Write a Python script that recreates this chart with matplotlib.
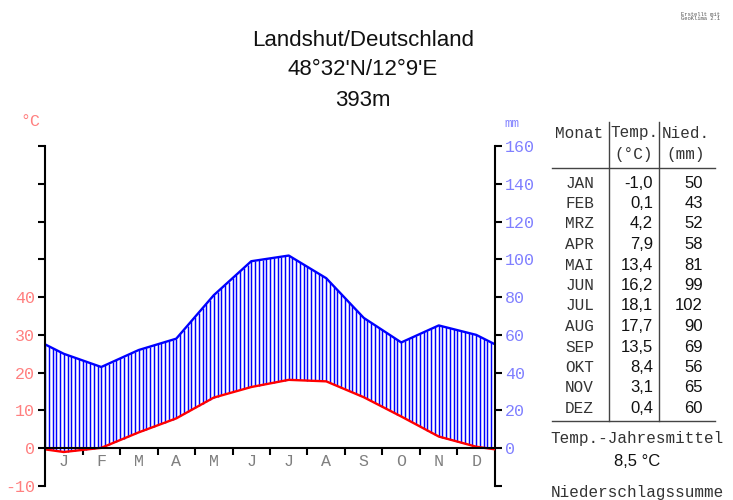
import numpy as np
import matplotlib.pyplot as plt

# Klimadaten Landshut
months = ["JAN", "FEB", "MRZ", "APR", "MAI", "JUN",
          "JUL", "AUG", "SEP", "OKT", "NOV", "DEZ"]
month_letters = ["J", "F", "M", "A", "M", "J", "J", "A", "S", "O", "N", "D"]
temp = [-1.0, 0.1, 4.2, 7.9, 13.4, 16.2, 18.1, 17.7, 13.5, 8.4, 3.1, 0.4]
precip = [50, 43, 52, 58, 81, 99, 102, 90, 69, 56, 65, 60]

title_lines = ["Landshut/Deutschland", "48°32'N/12°9'E", "393m"]

MONO = "Liberation Mono"
SANS = "Liberation Sans"
RED = "#ff0000"
BLUE = "#0000ff"
PINK = "#ff8080"
LIGHTBLUE = "#8080ff"
GREY = "#7f7f7f"
TXT = "#333333"

fig = plt.figure(figsize=(7.33, 5.0), dpi=100)
ax = fig.add_axes([0.0614, 0.028, 0.6139, 0.680])
ax2 = ax.twinx()
ax.set_zorder(ax2.get_zorder() + 1)
ax.patch.set_visible(False)

# Kurven an den Monatsmitten, Ränder zyklisch gemittelt
x_mid = np.arange(12) + 0.5
t_edge = (temp[-1] + temp[0]) / 2
p_edge = (precip[-1] + precip[0]) / 2
xs = np.concatenate([[0], x_mid, [12]])
ts = np.concatenate([[t_edge], temp, [t_edge]])
ps = np.concatenate([[p_edge], precip, [p_edge]])

# humide Zeit: senkrechte Schraffur zwischen Temperatur- und Niederschlagskurve
xh = np.arange(0, 12.001, 0.1)
th = np.interp(xh, xs, ts) * 2
ph = np.interp(xh, xs, ps)
wet = ph > th
ax2.vlines(xh[wet], th[wet], ph[wet], color=BLUE, lw=1.05)
ax2.plot(xs, ps, color=BLUE, lw=1.7)
ax.plot(xs, ts, color=RED, lw=1.7)

ax.set_xlim(0, 12)
ax.set_ylim(-10, 80)
ax2.set_ylim(-20, 160)

for s in ["top", "right"]:
    ax.spines[s].set_visible(False)
for s in ["top", "bottom", "left"]:
    ax2.spines[s].set_visible(False)
ax.spines["bottom"].set_position(("data", 0))
for s in ["left", "bottom"]:
    ax.spines[s].set_linewidth(1.5)
ax2.spines["right"].set_linewidth(1.5)

ax.set_xticks(np.arange(1, 12))
ax.set_xticklabels([])
ax.set_xticks(x_mid, minor=True)
ax.set_xticklabels(month_letters, minor=True, fontfamily=MONO, fontsize=12, color=GREY)
ax.tick_params(axis="x", which="major", length=5, width=1.5, direction="out")
ax.tick_params(axis="x", which="minor", length=0, pad=4)

ax.set_yticks(np.arange(-10, 90, 10))
ax.set_yticklabels([str(v) if v <= 40 else "" for v in range(-10, 90, 10)],
                   fontfamily=MONO, fontsize=12, color=PINK)
ax.tick_params(axis="y", length=5, width=1.5, direction="out", pad=2)

ax2.set_yticks(np.arange(-20, 180, 20))
ax2.set_yticklabels(["" if v < 0 else str(v) for v in range(-20, 180, 20)],
                    fontfamily=MONO, fontsize=12, color=LIGHTBLUE)
ax2.tick_params(axis="y", length=5, width=1.5, direction="out", pad=2)

fig.text(0.041, 0.756, "°C", fontfamily=MONO, fontsize=12, color=PINK, ha="center", va="center")
fig.text(0.698, 0.752, "mm", fontfamily=MONO, fontsize=9, color=LIGHTBLUE, ha="center", va="center")

for i, line in enumerate(title_lines):
    fig.text(0.495, 0.92 - i * 0.06, line, fontfamily=SANS, fontsize=16,
             color="#111111", ha="center", va="center")

fig.text(0.955, 0.967, "Erstellt mit\nGeoKlima 2.1", fontfamily=MONO, fontsize=4,
         color="#555555", ha="center", va="center", linespacing=0.9)

# Tabelle
fig.text(0.757, 0.734, "Monat", fontfamily=MONO, fontsize=11.5, color=TXT, ha="left", va="center")
fig.text(0.865, 0.734, "Temp.", fontfamily=MONO, fontsize=11.5, color=TXT, ha="center", va="center")
fig.text(0.936, 0.734, "Nied.", fontfamily=MONO, fontsize=11.5, color=TXT, ha="center", va="center")
fig.text(0.865, 0.690, "(°C)", fontfamily=MONO, fontsize=11.5, color=TXT, ha="center", va="center")
fig.text(0.936, 0.690, "(mm)", fontfamily=MONO, fontsize=11.5, color=TXT, ha="center", va="center")

row_top, row_step = 0.634, 0.041
for i, (m, t, p) in enumerate(zip(months, temp, precip)):
    y = row_top - i * row_step
    fig.text(0.771, y, m, fontfamily=MONO, fontsize=11.5, color=TXT, ha="left", va="center")
    fig.text(0.891, y, f"{t:.1f}".replace(".", ","), fontfamily=SANS, fontsize=12,
             color="#111111", ha="right", va="center")
    fig.text(0.959, y, str(p), fontfamily=SANS, fontsize=12,
             color="#111111", ha="right", va="center")

line_kw = dict(color="#444444", lw=1.0, transform=fig.transFigure)
fig.add_artist(plt.Line2D([0.831, 0.831], [0.756, 0.158], **line_kw))
fig.add_artist(plt.Line2D([0.899, 0.899], [0.756, 0.158], **line_kw))
fig.add_artist(plt.Line2D([0.753, 0.975], [0.664, 0.664], **line_kw))
fig.add_artist(plt.Line2D([0.753, 0.975], [0.158, 0.158], **line_kw))

mean_t = round(sum(temp) / 12, 1)
fig.text(0.869, 0.124, "Temp.-Jahresmittel", fontfamily=MONO, fontsize=11.5, color=TXT,
         ha="center", va="center")
fig.text(0.869, 0.078, f"{mean_t:.1f}".replace(".", ",") + " °C", fontfamily=SANS,
         fontsize=12, color="#111111", ha="center", va="center")
fig.text(0.869, 0.014, "Niederschlagssumme", fontfamily=MONO, fontsize=11.5, color=TXT,
         ha="center", va="center")

fig.savefig("out.png", dpi=100)
